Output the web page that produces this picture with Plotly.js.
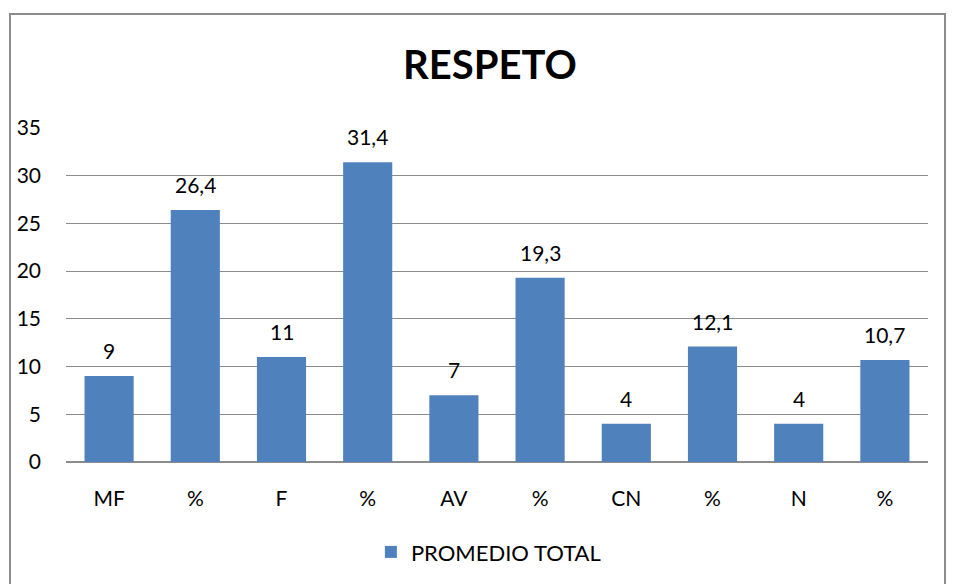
<!DOCTYPE html>
<html>
<head>
<meta charset="utf-8">
<script src="https://cdn.plot.ly/plotly-3.0.1.min.js"></script>
<style>
html,body{margin:0;padding:0;background:#fff;}
#wrap{position:relative;width:955px;height:584px;}
#chart{width:955px;height:584px;}
#frame{position:absolute;left:9px;top:13px;width:937px;height:600px;border:2px solid #8c8c8c;pointer-events:none;box-sizing:border-box;}
</style>
</head>
<body>
<div id="wrap"><div id="chart"></div><div id="frame"></div></div>
<script>
const categories = ["MF", "%", "F", "%", "AV", "%", "CN", "%", "N", "%"];
const values = [9, 26.4, 11, 31.4, 7, 19.3, 4, 12.1, 4, 10.7];
const seriesName = "PROMEDIO TOTAL";
const yTicks = [0, 5, 10, 15, 20, 25, 30, 35];

const positions = categories.map((c, i) => i);
const labels = values.map(v => String(v).replace('.', ','));
const font = "Lato, 'Open Sans', sans-serif";

const trace = {
  type: 'bar',
  x: positions,
  y: values,
  name: seriesName,
  marker: {color: '#4f81bd'},
  width: 0.57,
  hoverinfo: 'none'
};

const annotations = values.map((v, i) => ({
  x: positions[i], y: v, xref: 'x', yref: 'y',
  text: labels[i], showarrow: false, yanchor: 'bottom', yshift: 11,
  font: {family: font, size: 21, color: '#000'}
}));

const layout = {
  width: 955, height: 584,
  margin: {l: 66, r: 27, t: 128, b: 121},
  paper_bgcolor: '#fff', plot_bgcolor: '#fff',
  title: {text: '<b>RESPETO</b>', x: 0.513, xanchor: 'center', y: 0.889, yanchor: 'middle',
          font: {family: font, size: 40, color: '#000'}},
  xaxis: {
    range: [-0.5, 9.5], tickvals: positions, ticktext: categories,
    showgrid: false, zeroline: false, showline: false, ticks: '',
    ticklabelstandoff: 22,
    tickfont: {family: font, size: 21, color: '#000'}, fixedrange: true
  },
  yaxis: {
    range: [0, 35], tickvals: yTicks, ticktext: yTicks.map(String),
    showgrid: true, gridcolor: '#8c8c8c', gridwidth: 1,
    zeroline: true, zerolinecolor: '#8c8c8c', zerolinewidth: 2,
    showline: false, ticks: '', ticklabelstandoff: 24,
    tickfont: {family: font, size: 21, color: '#000'}, fixedrange: true
  },
  showlegend: true,
  legend: {orientation: 'h', x: 0.49, xanchor: 'center', y: -0.266, yanchor: 'middle',
           font: {family: font, size: 22, color: '#000'}},
  annotations: annotations,
  bargap: 0.43
};

Plotly.newPlot('chart', [trace], layout, {staticPlot: true, displayModeBar: false});
</script>
</body>
</html>
